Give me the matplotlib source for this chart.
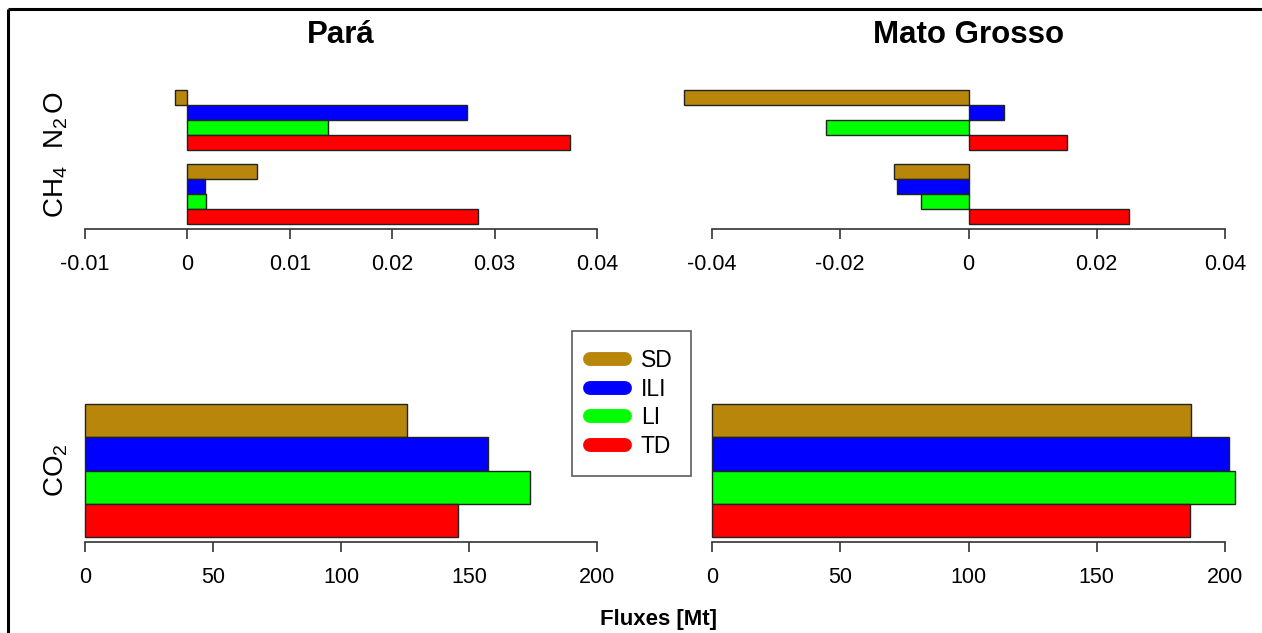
import matplotlib
matplotlib.use("Agg")
import matplotlib.pyplot as plt
from matplotlib.lines import Line2D

plt.rcParams['font.family'] = ['Liberation Sans', 'DejaVu Sans']
plt.rcParams['mathtext.fontset'] = 'custom'
plt.rcParams['mathtext.rm'] = 'Liberation Sans'
plt.rcParams['mathtext.it'] = 'Liberation Sans'

# data
scenarios = ['SD', 'ILI', 'LI', 'TD']
colors = ['#B8860B', '#0000FF', '#00FF00', '#FF0000']
regions = ['Pará', 'Mato Grosso']

para_n2o = [-0.0012, 0.0273, 0.0137, 0.0374]
para_ch4 = [0.0068, 0.0017, 0.0018, 0.0284]
para_co2 = [125.8, 157.5, 173.8, 145.7]

mato_n2o = [-0.0444, 0.0055, -0.0223, 0.0154]
mato_ch4 = [-0.0116, -0.0111, -0.0074, 0.0250]
mato_co2 = [186.6, 201.5, 203.9, 186.2]

top_ticks = [[-0.01, 0, 0.01, 0.02, 0.03, 0.04], [-0.04, -0.02, 0, 0.02, 0.04]]
top_ticklabels = [['-0.01', '0', '0.01', '0.02', '0.03', '0.04'],
                  ['-0.04', '-0.02', '0', '0.02', '0.04']]
co2_ticks = [0, 50, 100, 150, 200]

W, H = 1262, 633
fig = plt.figure(figsize=(W / 100, H / 100), dpi=100)


def px_axes(left, right, top, bottom):
    return fig.add_axes([left / W, 1 - bottom / H, (right - left) / W, (bottom - top) / H])


def style(ax, ticks, labels, xlim):
    ax.set_xlim(*xlim)
    for s in ['top', 'right', 'left']:
        ax.spines[s].set_visible(False)
    ax.spines['bottom'].set_bounds(ticks[0], ticks[-1])
    ax.spines['bottom'].set_color('#333333')
    ax.spines['bottom'].set_linewidth(1.2)
    ax.set_yticks([])
    ax.set_xticks(ticks)
    ax.set_xticklabels(labels, fontsize=15.5)
    ax.tick_params(axis='x', direction='out', length=7, width=1.2, color='#333333', pad=11)


def hbars(ax, vals, base):
    # order from top: SD, ILI, LI, TD
    for i, v in enumerate(vals):
        y = base + 3 - i
        ax.barh(y, v, height=1, align='edge', color=colors[i], edgecolor='#222222',
                linewidth=1, clip_on=False)


top_sets = [(para_n2o, para_ch4), (mato_n2o, mato_ch4)]
co2_sets = [para_co2, mato_co2]
x_px = [(85, 597), (712, 1225)]

for k in range(2):
    ax = px_axes(x_px[k][0], x_px[k][1], 84.6, 229.4)
    n2o, ch4 = top_sets[k]
    hbars(ax, n2o, 6)
    hbars(ax, ch4, 1)
    ax.set_ylim(0.64, 10.36)
    style(ax, top_ticks[k], top_ticklabels[k], (top_ticks[k][0], top_ticks[k][-1]))
    fig.text((x_px[k][0] + x_px[k][1]) / 2 / W, 1 - 35 / H, regions[k],
             ha='center', va='center', fontsize=22.5, fontweight='bold')

    ax2 = px_axes(x_px[k][0], x_px[k][1], 398.7, 542.3)
    hbars(ax2, co2_sets[k], 1)
    ax2.set_ylim(0.84, 5.16)
    style(ax2, co2_ticks, [str(t) for t in co2_ticks], (0, 200))

fig.text(56 / W, 1 - 120 / H, r'N$_2\,$O', rotation=90, ha='center', va='center', fontsize=20)
fig.text(56 / W, 1 - 192 / H, r'CH$_4$', rotation=90, ha='center', va='center', fontsize=20)
fig.text(56 / W, 1 - 470 / H, r'CO$_2$', rotation=90, ha='center', va='center', fontsize=20)
fig.text(659 / W, 1 - 619 / H, 'Fluxes [Mt]', ha='center', va='center',
         fontsize=16, fontweight='bold')

handles = [Line2D([0], [0], color=c, lw=10, solid_capstyle='round') for c in colors]
leg = fig.legend(handles, scenarios, loc='upper left', bbox_to_anchor=(572 / W, 1 - 331 / H),
                 borderaxespad=0, frameon=True, fancybox=False, fontsize=16.5,
                 handlelength=1.5, handletextpad=0.7, labelspacing=0.24,
                 borderpad=0.8)
leg.get_frame().set_edgecolor('#333333')
leg.get_frame().set_linewidth(1.2)

# outer frame (only top and left edges visible)
fig.lines.append(Line2D([8 / W, 8 / W], [0, 1 - 9 / H], transform=fig.transFigure,
                        color='black', linewidth=2.2, solid_capstyle='butt'))
fig.lines.append(Line2D([8 / W, 1], [1 - 9 / H, 1 - 9 / H], transform=fig.transFigure,
                        color='black', linewidth=2.2, solid_capstyle='butt'))

fig.savefig('out.png', dpi=100)
